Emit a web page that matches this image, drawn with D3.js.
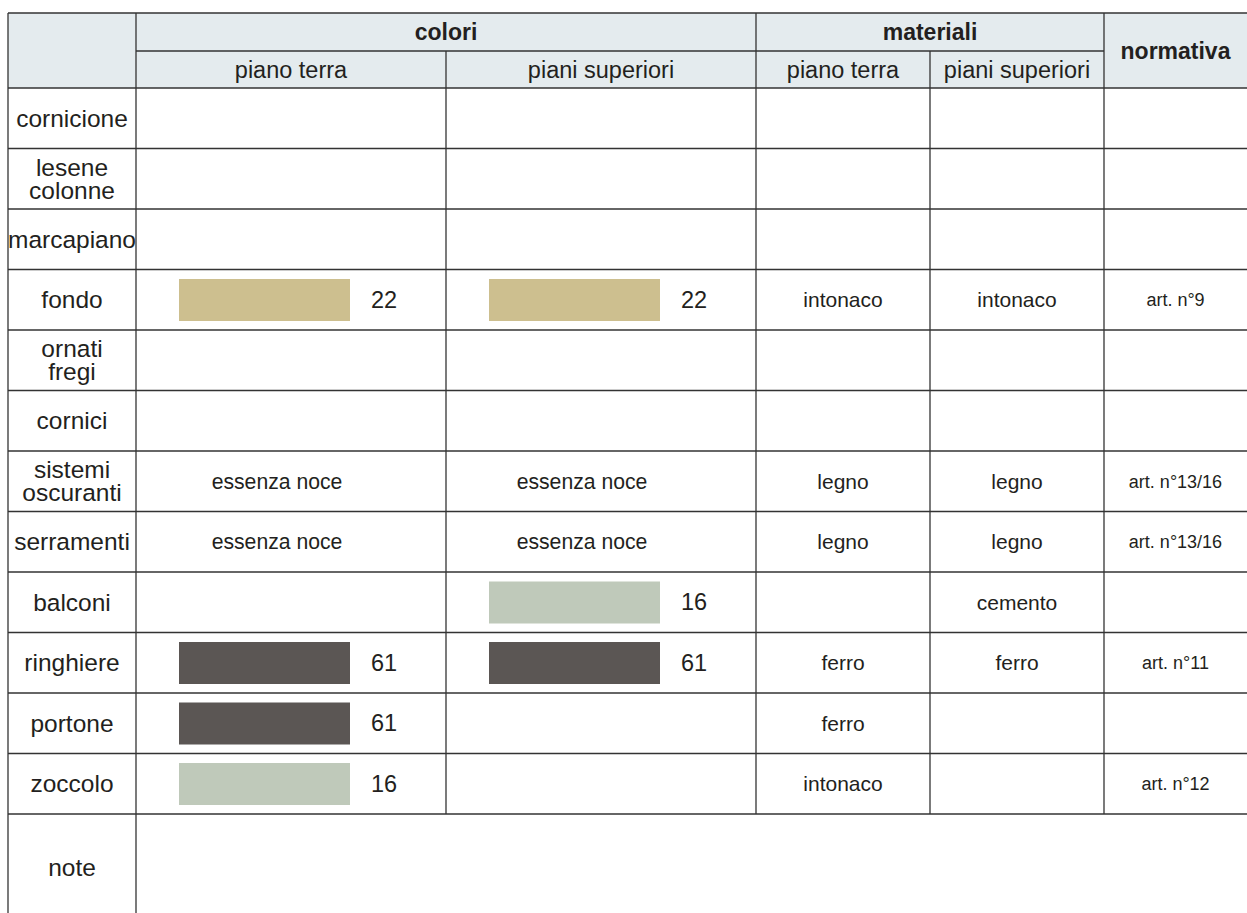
<!DOCTYPE html>
<html>
<head>
<meta charset="utf-8">
<script src="https://cdn.jsdelivr.net/npm/d3@7"></script>
<style>
  body { margin: 0; background: #fff; }
  svg text { font-family: "Liberation Sans", Arial, sans-serif; fill: #231f20; }
</style>
</head>
<body>
<svg width="1247" height="913"></svg>
<script>
// row labels (multi-line ones split)
var rowLabels = [
  ["cornicione"], ["lesene", "colonne"], ["marcapiano"], ["fondo"],
  ["ornati", "fregi"], ["cornici"], ["sistemi", "oscuranti"], ["serramenti"],
  ["balconi"], ["ringhiere"], ["portone"], ["zoccolo"]
];
var noteLabel = "note";

// colour codes per row (null = empty)
var coloriPianoTerra     = [null, null, null, 22, null, null, null, null, null, 61, 61, 16];
var coloriPianiSuperiori = [null, null, null, 22, null, null, null, null, 16, 61, null, null];
// text entries in the colour columns
var essenzaPianoTerra     = ["", "", "", "", "", "", "essenza noce", "essenza noce", "", "", "", ""];
var essenzaPianiSuperiori = ["", "", "", "", "", "", "essenza noce", "essenza noce", "", "", "", ""];

var materialiPianoTerra     = ["", "", "", "intonaco", "", "", "legno", "legno", "", "ferro", "ferro", "intonaco"];
var materialiPianiSuperiori = ["", "", "", "intonaco", "", "", "legno", "legno", "cemento", "ferro", "", ""];
var normativa = ["", "", "", "art. n°9", "", "", "art. n°13/16", "art. n°13/16", "", "art. n°11", "", "art. n°12"];

var colorCodes = [22, 16, 61];
var colorHex = ["#cdbf8f", "#bfc9ba", "#5b5654"];

var groupHeaders = ["colori", "materiali", "normativa"];
var subHeaders = ["piano terra", "piani superiori", "piano terra", "piani superiori"];

// layout
var W = 1247, H = 913;
var tLeft = 8, tTop = 13, headMid = 51, headBottom = 88;
var rowH = 60.5;
var columns = ["label", "cpt", "cps", "mpt", "mps", "norm", "end"];
var colX = d3.scaleOrdinal().domain(columns).range([8, 136, 446, 756, 930, 1104, 1247]);
var y = d3.scaleBand().domain(d3.range(rowLabels.length))
  .range([headBottom, headBottom + rowH * rowLabels.length]).paddingInner(0).paddingOuter(0);
var tableBottom = y.range()[1];
var noteBottom = tableBottom + 106;
var fill = d3.scaleOrdinal().domain(colorCodes).range(colorHex);

var svg = d3.select("svg");

// header background
svg.append("rect")
  .attr("x", tLeft).attr("y", tTop)
  .attr("width", W - tLeft).attr("height", headBottom - tTop)
  .attr("fill", "#e4ebee");

// header texts
function center(a, b) { return (colX(a) + colX(b)) / 2; }
var headG = svg.append("g").attr("font-weight", "bold").attr("font-size", 23).attr("text-anchor", "middle");
headG.append("text").attr("x", center("cpt", "mpt")).attr("y", (tTop + headMid) / 2).attr("dy", "0.35em").text(groupHeaders[0]);
headG.append("text").attr("x", center("mpt", "norm")).attr("y", (tTop + headMid) / 2).attr("dy", "0.35em").text(groupHeaders[1]);
headG.append("text").attr("x", center("norm", "end")).attr("y", (tTop + headBottom) / 2).attr("dy", "0.35em").text(groupHeaders[2]);

var subCols = [["cpt", "cps"], ["cps", "mpt"], ["mpt", "mps"], ["mps", "norm"]];
svg.append("g").attr("font-size", 23.5).attr("text-anchor", "middle")
  .selectAll("text").data(subHeaders).join("text")
  .attr("x", function (d, i) { return center(subCols[i][0], subCols[i][1]); })
  .attr("y", (headMid + headBottom) / 2).attr("dy", "0.35em")
  .text(function (d) { return d; });

// row labels
var lab = svg.append("g").attr("font-size", 24.5).attr("text-anchor", "middle");
rowLabels.forEach(function (lines, i) {
  var cy = y(i) + y.bandwidth() / 2;
  var t = lab.append("text").attr("x", center("label", "cpt"));
  lines.forEach(function (l, k) {
    t.append("tspan")
      .attr("x", center("label", "cpt"))
      .attr("y", cy + (k - (lines.length - 1) / 2) * 23)
      .attr("dy", "0.35em")
      .text(l);
  });
});
lab.append("text").attr("x", center("label", "cpt")).attr("y", (tableBottom + noteBottom) / 2)
  .attr("dy", "0.35em").text(noteLabel);

// colour bars + codes
function drawColours(values, col) {
  var g = svg.append("g");
  var data = values.map(function (v, i) { return { v: v, i: i }; }).filter(function (d) { return d.v != null; });
  g.selectAll("rect").data(data).join("rect")
    .attr("x", colX(col) + 43)
    .attr("y", function (d) { return y(d.i) + 9.5; })
    .attr("width", 171)
    .attr("height", 42)
    .attr("fill", function (d) { return fill(d.v); });
  g.selectAll("text").data(data).join("text")
    .attr("x", colX(col) + 248)
    .attr("y", function (d) { return y(d.i) + y.bandwidth() / 2; })
    .attr("dy", "0.35em")
    .attr("text-anchor", "middle")
    .attr("font-size", 23.5)
    .text(function (d) { return d.v; });
}
drawColours(coloriPianoTerra, "cpt");
drawColours(coloriPianiSuperiori, "cps");

function drawTexts(values, x, size) {
  svg.append("g").attr("font-size", size).attr("text-anchor", "middle")
    .selectAll("text").data(values).join("text")
    .attr("x", x)
    .attr("y", function (d, i) { return y(i) + y.bandwidth() / 2; })
    .attr("dy", "0.35em")
    .text(function (d) { return d; });
}
drawTexts(essenzaPianoTerra, colX("cpt") + 141, 21.2);
drawTexts(essenzaPianiSuperiori, colX("cps") + 136, 21.2);
drawTexts(materialiPianoTerra, center("mpt", "mps"), 21);
drawTexts(materialiPianiSuperiori, center("mps", "norm"), 21);
drawTexts(normativa, center("norm", "end"), 18);

// grid lines
var grid = svg.append("g").attr("stroke", "#333").attr("stroke-width", 1.3).attr("fill", "none");
function hline(x1, x2, yy) { grid.append("line").attr("x1", x1).attr("x2", x2).attr("y1", yy).attr("y2", yy); }
function vline(xx, y1, y2) { grid.append("line").attr("x1", xx).attr("x2", xx).attr("y1", y1).attr("y2", y2); }

hline(tLeft, W, tTop);
hline(colX("cpt"), colX("norm"), headMid);
hline(tLeft, W, headBottom);
y.domain().forEach(function (i) { hline(tLeft, W, y(i) + y.bandwidth()); });

vline(tLeft, tTop, H);
vline(colX("cpt"), tTop, H);
vline(colX("cps"), headMid, tableBottom);
vline(colX("mpt"), tTop, tableBottom);
vline(colX("mps"), headMid, tableBottom);
vline(colX("norm"), tTop, tableBottom);
</script>
</body>
</html>
